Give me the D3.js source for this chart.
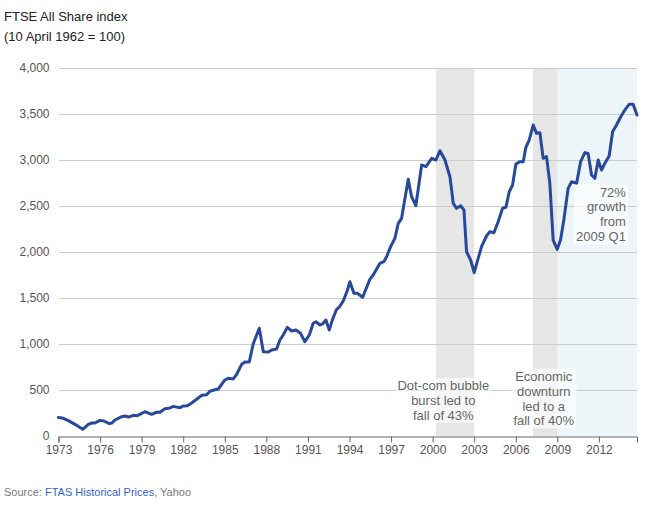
<!DOCTYPE html>
<html>
<head>
<meta charset="utf-8">
<script src="https://cdn.jsdelivr.net/npm/d3@7"></script>
<style>
  body { margin: 0; background: #fff; }
  svg { display: block; font-family: Arial, "Liberation Sans", sans-serif; }
</style>
</head>
<body>
<svg id="chart" width="645" height="509"></svg>
<script>
// ---- data ----
const years = [
  1973.00, 1973.35, 1973.71, 1974.19, 1974.75, 1975.15, 1975.40, 1975.63, 1975.99, 1976.28,
  1976.67, 1976.84, 1977.08, 1977.56, 1977.80, 1978.04, 1978.40, 1978.69, 1979.24, 1979.72,
  1980.08, 1980.32, 1980.68, 1981.04, 1981.28, 1981.77, 1982.00, 1982.29, 1982.61, 1982.97,
  1983.33, 1983.69, 1983.93, 1984.29, 1984.53, 1985.01, 1985.25, 1985.61, 1985.86, 1986.22,
  1986.46, 1986.77, 1987.05, 1987.49, 1987.78, 1988.14, 1988.38, 1988.74, 1988.98, 1989.22,
  1989.51, 1989.83, 1990.14, 1990.47, 1990.78, 1991.10, 1991.38, 1991.58, 1991.87, 1992.06,
  1992.30, 1992.54, 1992.78, 1993.07, 1993.26, 1993.55, 1993.84, 1994.03, 1994.32, 1994.56,
  1994.95, 1995.47, 1995.71, 1996.20, 1996.48, 1996.68, 1996.97, 1997.28, 1997.52, 1997.76,
  1998.24, 1998.48, 1998.79, 1999.21, 1999.52, 1999.93, 2000.24, 2000.53, 2000.89, 2001.25,
  2001.49, 2001.73, 2002.02, 2002.26, 2002.45, 2002.74, 2003.00, 2003.22, 2003.53, 2003.89,
  2004.13, 2004.42, 2004.73, 2005.05, 2005.29, 2005.53, 2005.77, 2006.01, 2006.30, 2006.54,
  2006.73, 2006.97, 2007.26, 2007.50, 2007.74, 2007.98, 2008.22, 2008.46, 2008.70, 2008.99,
  2009.23, 2009.47, 2009.78, 2010.03, 2010.39, 2010.68, 2010.99, 2011.22, 2011.47, 2011.71,
  2011.95, 2012.19, 2012.43, 2012.74, 2012.99, 2013.27, 2013.56, 2013.87, 2014.18, 2014.47,
  2014.75
];
const values = [
  200, 192, 167, 127, 73, 127, 141, 141, 170, 163,
  134, 141, 174, 210, 217, 206, 225, 221, 264, 236,
  258, 258, 297, 304, 322, 308, 326, 329, 359, 399,
  442, 449, 486, 503, 511, 609, 627, 620, 671, 779,
  804, 804, 1000, 1171, 916, 913, 935, 946, 1043, 1098,
  1181, 1141, 1152, 1116, 1025, 1098, 1225, 1242, 1207, 1218,
  1261, 1152, 1268, 1377, 1399, 1467, 1579, 1677, 1551, 1551,
  1508, 1703, 1750, 1877, 1895, 1949, 2058, 2149, 2312, 2366,
  2790, 2601, 2503, 2946, 2927, 3018, 3000, 3101, 3000, 2818,
  2529, 2475, 2503, 2457, 2003, 1913, 1775, 1895, 2058, 2174,
  2221, 2210, 2329, 2475, 2486, 2655, 2728, 2957, 2982, 2982,
  3138, 3217, 3380, 3290, 3297, 3018, 3036, 2746, 2130, 2029,
  2130, 2348, 2692, 2764, 2746, 2982, 3080, 3072, 2837, 2801,
  3000, 2891, 2964, 3043, 3308, 3380, 3464, 3543, 3605, 3605,
  3489
];
const xTicks = [1973, 1976, 1979, 1982, 1985, 1988, 1991, 1994, 1997, 2000, 2003, 2006, 2009, 2012];
const yTicks = [0, 500, 1000, 1500, 2000, 2500, 3000, 3500, 4000];
const recessions = [[2000.25, 2003.0], [2007.25, 2009.0]];
const growthPeriod = [2009.0, 2014.75];
const titleLines = ["FTSE All Share index", "(10 April 1962 = 100)"];
const annotations = [
  { x: 2000.77, y: 390, lines: ["Dot-com bubble", "burst led to", "fall of 43%"], anchor: "middle" },
  { x: 2008.02, y: 380.7, lines: ["Economic", "downturn", "led to a", "fall of 40%"], anchor: "middle" },
  { x: 2013.95, y: 196.5, lines: ["72%", "growth", "from", "2009 Q1"], anchor: "end" }
];

// ---- layout ----
const svg = d3.select("#chart");
const x = d3.scaleLinear().domain([1973, 2014.75]).range([58.5, 637]);
const y = d3.scaleLinear().domain([0, 4000]).range([436, 68]);

// background shading
svg.append("rect")
  .attr("x", x(growthPeriod[0])).attr("y", y(4000))
  .attr("width", x(growthPeriod[1]) - x(growthPeriod[0]))
  .attr("height", y(0) - y(4000))
  .attr("fill", "#eef5f8");
svg.selectAll("rect.rec").data(recessions).join("rect")
  .attr("class", "rec")
  .attr("x", d => x(d[0])).attr("y", y(4000))
  .attr("width", d => x(d[1]) - x(d[0]))
  .attr("height", y(0) - y(4000))
  .attr("fill", "#e6e6e6");

// y grid + labels
const yAxis = svg.append("g");
yAxis.selectAll("line").data(yTicks.filter(d => d > 0)).join("line")
  .attr("x1", 59).attr("x2", 637)
  .attr("y1", d => Math.round(y(d)) + 0.5).attr("y2", d => Math.round(y(d)) + 0.5)
  .attr("stroke", "#cccccc").attr("stroke-width", 1);
yAxis.selectAll("text").data(yTicks).join("text")
  .attr("x", 49.5).attr("y", d => y(d)).attr("dy", "0.35em")
  .attr("text-anchor", "end").attr("font-size", 12).attr("fill", "#555")
  .text(d => d3.format(",")(d));

// x axis
const xAxisG = svg.append("g")
  .attr("transform", `translate(0,${Math.round(y(0)) + 0.5})`)
  .call(d3.axisBottom(x).tickValues(xTicks).tickFormat(d3.format("d")).tickSize(6).tickSizeOuter(6));
xAxisG.select(".domain").attr("stroke", "#666");
xAxisG.selectAll(".tick line").attr("stroke", "#666");
xAxisG.selectAll(".tick text").attr("font-size", 12).attr("fill", "#555")
  .attr("font-family", "Arial, 'Liberation Sans', sans-serif");

// line
const line = d3.line().x((d, i) => x(years[i])).y(d => y(d)).curve(d3.curveLinear);
svg.append("path").datum(values)
  .attr("d", line)
  .attr("fill", "none").attr("stroke", "#28499b").attr("stroke-width", 3)
  .attr("stroke-linejoin", "round").attr("stroke-linecap", "round");

// annotations
annotations.forEach(a => {
  const g = svg.append("g");
  const bg = g.append("rect");
  const t = g.append("text")
    .attr("font-size", 13).attr("fill", "#666").attr("text-anchor", a.anchor);
  a.lines.forEach((l, i) => {
    t.append("tspan").attr("x", x(a.x)).attr("y", a.y + i * 14.9).text(l);
  });
  const bb = t.node().getBBox();
  bg.attr("x", bb.x - 2).attr("y", bb.y).attr("width", bb.width + 4).attr("height", bb.height)
    .attr("fill", "#fff").attr("fill-opacity", 0.65);
});

// title
svg.selectAll("text.title").data(titleLines).join("text")
  .attr("class", "title")
  .attr("x", 4).attr("y", (d, i) => 21 + i * 20)
  .attr("font-size", 13).attr("fill", "#222")
  .text(d => d);

// source
const src = svg.append("text").attr("x", 4).attr("y", 496).attr("font-size", 11).attr("fill", "#777");
src.append("tspan").text("Source: ");
src.append("tspan").attr("fill", "#3366cc").text("FTAS Historical Prices");
src.append("tspan").text(", Yahoo");
</script>
</body>
</html>
